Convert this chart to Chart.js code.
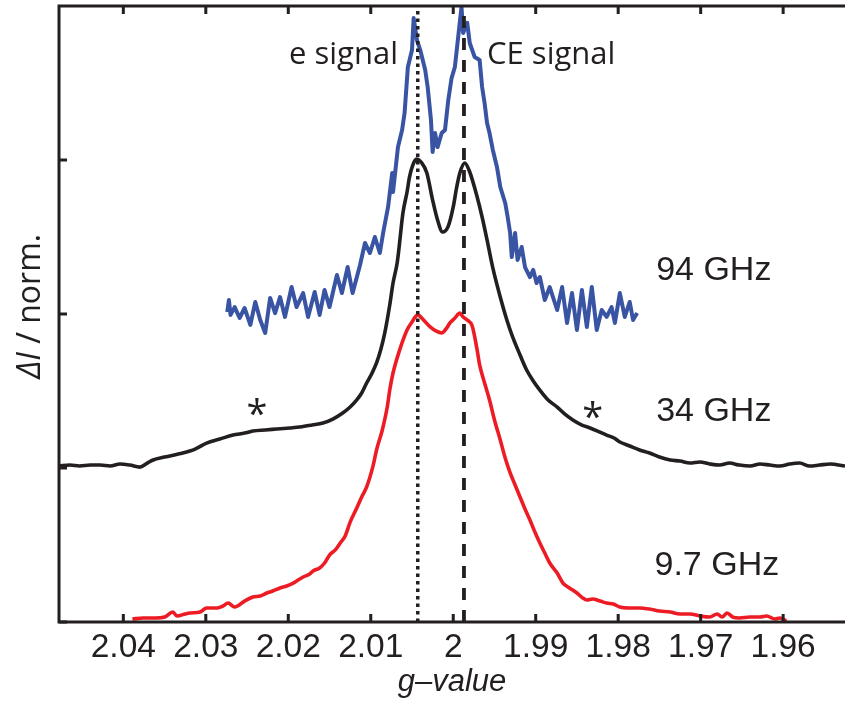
<!DOCTYPE html>
<html>
<head>
<meta charset="utf-8">
<title>EPR spectra, g-value</title>
<script src="https://cdn.jsdelivr.net/npm/chart.js@4.4.0/dist/chart.umd.min.js"></script>
<style>
  html, body { margin: 0; padding: 0; background: #fff; }
  #wrap { width: 845px; height: 704px; }
</style>
</head>
<body>
<div id="wrap"><canvas id="epr" width="845" height="704"></canvas></div>
<script>
// g axis runs from high to low values
const gMin = 1.9525;
const gMax = 2.0478;
const gTicks = [2.04, 2.03, 2.02, 2.01, 2.00, 1.99, 1.98, 1.97, 1.96];
const yTicks = [0, 1, 2, 3];
const yMax = 4;

// marker lines: e signal (dotted), CE signal (dashed)
const eSignalG = 2.0043;
const ceSignalG = 1.9987;

// 94 GHz spectrum, offset by 2
const spec94 = [
  [2.0274,2.013],[2.0272,2.091],[2.0270,1.994],[2.0265,2.045],[2.0259,1.974],[2.0253,2.039],
  [2.0246,1.929],[2.0240,2.078],[2.0234,1.961],[2.0228,1.877],[2.0222,2.104],[2.0216,2.006],
  [2.0210,2.110],[2.0204,1.981],[2.0196,2.175],[2.0190,2.045],[2.0182,2.136],[2.0176,1.981],
  [2.0168,2.143],[2.0162,1.994],[2.0156,2.156],[2.0150,2.045],[2.0141,2.253],[2.0135,2.136],
  [2.0128,2.305],[2.0122,2.136],[2.0113,2.318],[2.0107,2.461],[2.0101,2.396],[2.0095,2.500],
  [2.0089,2.396],[2.0085,2.526],[2.0079,2.695],[2.0074,2.916],[2.0073,2.792],[2.0067,3.084],
  [2.0062,3.195],[2.0059,3.305],[2.0055,3.604],[2.0050,3.714],[2.0048,3.922],[2.0044,3.779],
  [2.0040,3.714],[2.0034,3.584],[2.0031,3.474],[2.0027,3.260],[2.0025,3.052],[2.0022,3.175],
  [2.0019,3.084],[2.0014,3.175],[2.0010,3.195],[2.0006,3.390],[2.0002,3.532],[1.9998,3.604],
  [1.9994,3.799],[1.9990,3.994],[1.9988,3.825],[1.9983,3.890],[1.9980,3.760],[1.9974,3.669],
  [1.9968,3.649],[1.9965,3.474],[1.9962,3.370],[1.9959,3.240],[1.9956,3.175],[1.9952,3.065],
  [1.9947,2.955],[1.9943,2.825],[1.9937,2.721],[1.9934,2.630],[1.9931,2.526],[1.9929,2.370],
  [1.9925,2.526],[1.9922,2.351],[1.9917,2.435],[1.9913,2.305],[1.9907,2.240],[1.9903,2.286],
  [1.9899,2.201],[1.9895,2.240],[1.9889,2.091],[1.9883,2.175],[1.9874,2.026],[1.9868,2.175],
  [1.9862,1.942],[1.9856,2.136],[1.9850,1.896],[1.9844,2.156],[1.9838,1.916],[1.9832,2.175],
  [1.9826,1.896],[1.9820,2.026],[1.9814,1.981],[1.9808,2.045],[1.9804,1.942],[1.9798,2.136],
  [1.9792,1.981],[1.9786,2.078],[1.9782,1.961],[1.9777,2.006]
];

// 34 GHz spectrum, offset by 1
const spec34 = [
  [2.0478,1.013],[2.0465,1.019],[2.0453,1.013],[2.0440,1.019],[2.0428,1.019],[2.0416,1.013],
  [2.0404,1.026],[2.0392,1.019],[2.0380,1.006],[2.0371,1.032],[2.0364,1.052],[2.0350,1.071],
  [2.0328,1.097],[2.0313,1.123],[2.0299,1.162],[2.0283,1.188],[2.0267,1.214],[2.0253,1.227],
  [2.0243,1.240],[2.0228,1.247],[2.0214,1.253],[2.0198,1.260],[2.0186,1.266],[2.0171,1.279],
  [2.0158,1.292],[2.0146,1.318],[2.0134,1.357],[2.0125,1.396],[2.0117,1.442],[2.0111,1.487],
  [2.0105,1.552],[2.0099,1.610],[2.0093,1.682],[2.0088,1.766],[2.0083,1.877],[2.0077,2.058],
  [2.0073,2.201],[2.0068,2.331],[2.0066,2.416],[2.0061,2.656],[2.0056,2.792],[2.0053,2.890],
  [2.0048,2.981],[2.0044,3.006],[2.0039,2.987],[2.0032,2.916],[2.0025,2.740],[2.0019,2.610],
  [2.0013,2.532],[2.0006,2.571],[2.0000,2.695],[1.9996,2.818],[1.9992,2.916],[1.9986,2.981],
  [1.9980,2.922],[1.9971,2.760],[1.9965,2.630],[1.9959,2.481],[1.9952,2.299],[1.9943,2.110],
  [1.9935,1.961],[1.9928,1.851],[1.9919,1.734],[1.9911,1.636],[1.9903,1.565],[1.9895,1.506],
  [1.9885,1.442],[1.9874,1.396],[1.9865,1.351],[1.9855,1.312],[1.9844,1.279],[1.9834,1.260],
  [1.9825,1.240],[1.9814,1.214],[1.9805,1.195],[1.9798,1.169],[1.9786,1.143],[1.9774,1.117],
  [1.9762,1.097],[1.9750,1.071],[1.9737,1.052],[1.9725,1.045],[1.9713,1.032],[1.9701,1.039],
  [1.9689,1.026],[1.9677,1.019],[1.9665,1.032],[1.9653,1.019],[1.9640,1.013],[1.9628,1.026],
  [1.9616,1.019],[1.9604,1.013],[1.9592,1.026],[1.9580,1.032],[1.9568,1.013],[1.9556,1.019],
  [1.9543,1.026],[1.9525,1.013]
];

// 9.7 GHz spectrum
const spec97 = [
  [2.0389,0.019],[2.0376,0.026],[2.0362,0.026],[2.0350,0.032],[2.0340,0.065],[2.0335,0.039],
  [2.0325,0.052],[2.0319,0.058],[2.0307,0.065],[2.0299,0.091],[2.0286,0.091],[2.0279,0.104],
  [2.0273,0.123],[2.0265,0.097],[2.0253,0.136],[2.0243,0.162],[2.0234,0.169],[2.0226,0.188],
  [2.0219,0.201],[2.0210,0.221],[2.0202,0.234],[2.0194,0.253],[2.0188,0.273],[2.0182,0.292],
  [2.0174,0.312],[2.0170,0.331],[2.0162,0.351],[2.0156,0.383],[2.0150,0.435],[2.0143,0.468],
  [2.0137,0.513],[2.0131,0.558],[2.0125,0.649],[2.0117,0.740],[2.0111,0.812],[2.0105,0.877],
  [2.0097,1.019],[2.0093,1.117],[2.0086,1.247],[2.0080,1.396],[2.0077,1.506],[2.0073,1.617],
  [2.0065,1.766],[2.0056,1.896],[2.0050,1.948],[2.0043,1.994],[2.0036,1.961],[2.0028,1.916],
  [2.0021,1.890],[2.0014,1.877],[2.0008,1.909],[2.0004,1.942],[1.9998,1.974],[1.9992,2.006],
  [1.9988,1.981],[1.9983,1.961],[1.9977,1.922],[1.9971,1.766],[1.9968,1.669],[1.9962,1.552],
  [1.9956,1.442],[1.9950,1.312],[1.9943,1.182],[1.9937,1.065],[1.9931,0.968],[1.9925,0.890],
  [1.9919,0.812],[1.9913,0.734],[1.9907,0.662],[1.9901,0.584],[1.9895,0.513],[1.9889,0.448],
  [1.9883,0.383],[1.9874,0.318],[1.9867,0.253],[1.9859,0.221],[1.9850,0.188],[1.9843,0.156],
  [1.9838,0.143],[1.9831,0.149],[1.9822,0.136],[1.9814,0.123],[1.9806,0.117],[1.9798,0.097],
  [1.9786,0.091],[1.9774,0.091],[1.9762,0.084],[1.9750,0.071],[1.9737,0.065],[1.9725,0.052],
  [1.9713,0.052],[1.9701,0.039],[1.9689,0.032],[1.9680,0.052],[1.9674,0.032],[1.9668,0.058],
  [1.9661,0.032],[1.9653,0.026],[1.9640,0.032],[1.9628,0.032],[1.9620,0.039],[1.9610,0.019],
  [1.9604,0.026],[1.9596,0.006]
];

// text placed in data space: [text, g, intensity, align]
const bandLabels = [
  ['94 GHz', 1.9754, 2.221, 'left'],
  ['34 GHz', 1.9754, 1.305, 'left'],
  ['9.7 GHz', 1.9756, 0.305, 'left']
];
const signalLabels = [
  ['e signal', 2.0067, 3.623, 'right'],
  ['CE signal', 1.9959, 3.623, 'left']
];
const starMarks = [[2.0238, 1.396], [1.9831, 1.377]];

const ink = '#231f20';
const toXY = arr => arr.map(p => ({ x: p[0], y: p[1] }));

// box on three sides with inward tick marks
const frame = {
  id: 'frame',
  afterDatasetsDraw(chart) {
    const { ctx, chartArea: a, scales: { x, y } } = chart;
    ctx.save();
    ctx.strokeStyle = ink;
    ctx.lineWidth = 3;
    ctx.beginPath();
    ctx.moveTo(a.right, a.top);
    ctx.lineTo(a.left, a.top);
    ctx.lineTo(a.left, a.bottom);
    ctx.lineTo(a.right, a.bottom);
    ctx.stroke();
    ctx.beginPath();
    gTicks.forEach(v => {
      const px = x.getPixelForValue(v);
      ctx.moveTo(px, a.bottom);
      ctx.lineTo(px, a.bottom - 8);
      ctx.moveTo(px, a.top);
      ctx.lineTo(px, a.top + 8);
    });
    yTicks.forEach(v => {
      const py = y.getPixelForValue(v);
      ctx.moveTo(a.left, py);
      ctx.lineTo(a.left + 8, py);
    });
    ctx.stroke();
    ctx.restore();
  },
  afterDraw(chart) {
    const { ctx, chartArea: a, scales: { x, y } } = chart;
    ctx.save();
    ctx.fillStyle = ink;
    ctx.textBaseline = 'alphabetic';

    ctx.font = '34px "Liberation Sans", Arial, sans-serif';
    bandLabels.forEach(([t, g, v, al]) => {
      ctx.textAlign = al;
      ctx.fillText(t, x.getPixelForValue(g), y.getPixelForValue(v));
    });

    ctx.font = '31px "Open Sans", sans-serif';
    signalLabels.forEach(([t, g, v, al]) => {
      ctx.textAlign = al;
      ctx.fillText(t, x.getPixelForValue(g), y.getPixelForValue(v));
    });

    // asterisks centred on their point
    ctx.font = '38px "Open Sans", sans-serif';
    ctx.textAlign = 'center';
    const m = ctx.measureText('*');
    const shift = (m.actualBoundingBoxAscent - m.actualBoundingBoxDescent) / 2;
    starMarks.forEach(([g, v]) => {
      ctx.fillText('*', x.getPixelForValue(g), y.getPixelForValue(v) + shift);
    });

    // y title: italic ΔI then " / norm."
    const partA = 'ΔI';
    const partB = ' / norm.';
    const fA = 'italic 32px "Open Sans", sans-serif';
    const fB = '32px "Open Sans", sans-serif';
    ctx.font = fA; const wA = ctx.measureText(partA).width;
    ctx.font = fB; const wB = ctx.measureText(partB).width;
    ctx.translate(a.left - 28, y.getPixelForValue(2.05));
    ctx.rotate(-Math.PI / 2);
    ctx.textAlign = 'left';
    ctx.textBaseline = 'middle';
    ctx.font = fA; ctx.fillText(partA, -(wA + wB) / 2, 0);
    ctx.font = fB; ctx.fillText(partB, -(wA + wB) / 2 + wA, 0);
    ctx.restore();
  }
};

new Chart(document.getElementById('epr'), {
  type: 'line',
  data: {
    datasets: [
      {
        label: 'e signal',
        data: [{ x: eSignalG, y: 0 }, { x: eSignalG, y: yMax }],
        borderColor: ink, borderWidth: 3.5, borderDash: [3.5, 4]
      },
      {
        label: 'CE signal',
        data: [{ x: ceSignalG, y: 0 }, { x: ceSignalG, y: yMax }],
        borderColor: ink, borderWidth: 3.8, borderDash: [12, 10]
      },
      { label: '94 GHz', data: toXY(spec94), borderColor: '#3a54a4', borderWidth: 4 },
      {
        label: '34 GHz', data: toXY(spec34), borderColor: ink, borderWidth: 3.6,
        cubicInterpolationMode: 'monotone'
      },
      {
        label: '9.7 GHz', data: toXY(spec97), borderColor: '#ed1c24', borderWidth: 3.6,
        cubicInterpolationMode: 'monotone'
      }
    ]
  },
  options: {
    responsive: false,
    animation: false,
    devicePixelRatio: 1,
    layout: { padding: { left: 59, right: 0, top: 6, bottom: 0 } },
    elements: {
      point: { radius: 0 },
      line: { tension: 0, fill: false, borderJoinStyle: 'round' }
    },
    plugins: { legend: { display: false }, tooltip: { enabled: false } },
    scales: {
      x: {
        type: 'linear',
        reverse: true,
        min: gMin,
        max: gMax,
        afterFit: s => { s.height = 82; },
        afterBuildTicks: s => { s.ticks = gTicks.map(v => ({ value: v })); },
        grid: { display: false, drawTicks: false },
        border: { display: false },
        ticks: {
          padding: 6,
          color: ink,
          font: { family: '"Liberation Sans", Arial, sans-serif', size: 33.5, lineHeight: 1.2 },
          callback: v => String(parseFloat(v.toFixed(2)))
        },
        title: {
          display: true,
          text: 'g–value',
          color: ink,
          padding: { top: 0, bottom: 3 },
          font: { family: '"Liberation Sans", Arial, sans-serif', size: 31, style: 'italic', lineHeight: 1.2 }
        }
      },
      y: {
        type: 'linear',
        display: false,
        min: 0,
        max: yMax
      }
    }
  },
  plugins: [frame]
});
</script>
</body>
</html>
